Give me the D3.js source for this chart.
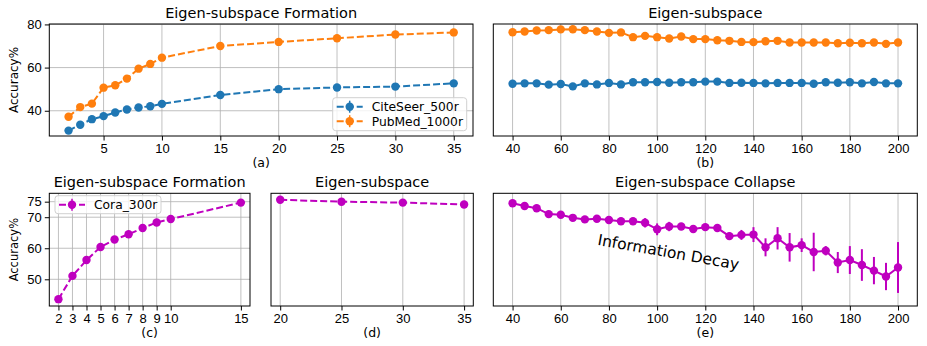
<!DOCTYPE html>
<html>
<head>
<meta charset="utf-8">
<script src="https://cdn.jsdelivr.net/npm/d3@7"></script>
<style>
	body { margin: 0; background: #fff; }
	svg { font-family: "DejaVu Sans", sans-serif; }
	.grid line { stroke: #b0b0b0; stroke-width: 1; stroke-opacity: 0.8; }
	.axis path, .axis line { stroke: #000; }
	.axis text { font-size: 13px; fill: #000; }
</style>
</head>
<body>
<svg width="927" height="346"></svg>
<script>
// data........................................................................

var ranksA = [2, 3, 4, 5, 6, 7, 8, 9, 10, 15, 20, 25, 30, 35],
	citeseerA = [30.8, 33.5, 36.1, 37.5, 39.2, 40.6, 41.5, 42.1, 43.2, 47.3, 50.0, 50.8, 51.2, 52.7],
	pubmedA = [37.2, 41.7, 43.3, 50.7, 51.8, 54.9, 59.5, 61.7, 64.6, 70.0, 71.9, 73.6, 75.3, 76.3];

var ranksB = [40, 45, 50, 55, 60, 65, 70, 75, 80, 85, 90, 95, 100, 105, 110, 115, 120,
		125, 130, 135, 140, 145, 150, 155, 160, 165, 170, 175, 180, 185, 190, 195, 200],
	citeseerB = [52.5, 52.7, 52.7, 52.1, 52.4, 51.3, 52.7, 52.2, 52.9, 52.2, 53.2, 53.2, 53.3,
		53.0, 53.2, 53.2, 53.5, 53.5, 52.9, 53.0, 52.9, 52.7, 52.9, 52.9, 52.9, 52.5, 53.2,
		53.0, 53.2, 52.7, 53.3, 52.7, 52.7],
	pubmedB = [76.4, 76.7, 77.2, 77.35, 77.7, 77.8, 77.35, 76.7, 76.1, 76.3, 74.1, 74.7, 74.1,
		73.5, 74.4, 73.2, 73.2, 72.7, 72.4, 71.9, 71.8, 72.2, 72.4, 71.6, 71.6, 71.6, 71.6,
		71.3, 71.5, 71.3, 71.6, 71.0, 71.6];

var ranksC = [2, 3, 4, 5, 6, 7, 8, 9, 10, 15],
	coraC = [43.6, 51.1, 56.2, 60.4, 62.8, 64.5, 66.5, 68.3, 69.4, 74.7];

var ranksD = [20, 25, 30, 35],
	coraD = [75.6, 75.0, 74.7, 74.1];

var ranksE = ranksB,
	coraE = [74.5, 73.6, 72.9, 71.0, 70.8, 69.8, 69.3, 69.5, 69.1, 68.7, 68.7, 68.2, 66.1,
		67.0, 67.0, 66.2, 66.8, 66.5, 63.9, 64.3, 64.4, 60.3, 63.2, 60.3, 61.0, 58.8, 59.2,
		55.4, 56.2, 54.6, 52.8, 50.9, 53.8],
	coraErrE = [0.6, 0.6, 0.6, 0.6, 0.6, 0.6, 0.6, 0.6, 0.7, 0.7, 0.7, 1.5, 1.9,
		1.5, 0.8, 0.6, 0.7, 0.8, 1.2, 1.6, 2.4, 2.9, 3.6, 4.6, 2.2, 6.2, 1.5,
		3.4, 4.5, 5.1, 4.4, 4.4, 8.2];

var ticksAx = [5, 10, 15, 20, 25, 30, 35], ticksAy = [40, 60, 80],
	ticksBx = [40, 60, 80, 100, 120, 140, 160, 180, 200],
	ticksCx = [2, 3, 4, 5, 6, 7, 8, 9, 10, 15], ticksCy = [50, 60, 70, 75],
	ticksDx = [20, 25, 30, 35];

var blue = "#1f77b4", orange = "#ff7f0e", magenta = "#bf00bf";

// panels......................................................................

var svg = d3.select("svg");

var yTop = d3.scaleLinear().domain([28.3, 80.2]).range([136, 24]),
	yBot = d3.scaleLinear().domain([41.4, 77.7]).range([306, 193.3]);

var pa = panel([49.3, 473], yTop, [0.35, 36.65], ticksAx, ticksAy, 12,
		"Eigen-subspace Formation", "(a)"),
	pb = panel([493.3, 917.3], yTop, [32, 208], ticksBx, ticksAy, 0,
		"Eigen-subspace", "(b)"),
	pc = panel([49.3, 250], yBot, [1.35, 15.65], ticksCx, ticksCy, 11.5,
		"Eigen-subspace Formation", "(c)"),
	pd = panel([271, 473.3], yBot, [19.25, 35.75], ticksDx, ticksCy, 0,
		"Eigen-subspace", "(d)"),
	pe = panel([493.3, 917.3], yBot, [32, 208], ticksBx, ticksCy, 0,
		"Eigen-subspace Collapse", "(e)");

series(pa, ranksA, citeseerA, null, blue, true);
series(pa, ranksA, pubmedA, null, orange, true);
series(pb, ranksB, citeseerB, null, blue, false);
series(pb, ranksB, pubmedB, null, orange, false);
series(pc, ranksC, coraC, null, magenta, true);
series(pd, ranksD, coraD, null, magenta, true);
series(pe, ranksE, coraE, coraErrE, magenta, false);

legend(pa, 332.7, 97.7, 134, 33, [["CiteSeer_500r", blue], ["PubMed_1000r", orange]]);
legend(pc, 55, 195.7, 106, 18, [["Cora_300r", magenta]]);

// free text in (e)
pe.g.append("text")
	.attr("transform", "translate(" + pe.x(75) + "," + pe.y(61.1) + ") rotate(10)")
	.style("font-size", "15.5px")
	.text("Information Decay");

// helpers.....................................................................

function panel(xr, y, xdom, xticks, yticks, ylabelSize, title, label){
	var x = d3.scaleLinear().domain(xdom).range(xr),
		g = svg.append("g");

	// grid
	g.append("g").attr("class", "grid")
		.selectAll("line").data(xticks)
		.enter().append("line")
			.attr("x1", function(d) { return x(d); })
			.attr("x2", function(d) { return x(d); })
			.attr("y1", y.range()[0])
			.attr("y2", y.range()[1]);
	if(ylabelSize)
		g.append("g").attr("class", "grid")
			.selectAll("line").data(yticks)
			.enter().append("line")
				.attr("x1", xr[0])
				.attr("x2", xr[1])
				.attr("y1", function(d) { return y(d); })
				.attr("y2", function(d) { return y(d); });

	// axes
	g.append("g").attr("class", "axis")
		.attr("transform", "translate(0," + y.range()[0] + ")")
		.call(d3.axisBottom(x).tickValues(xticks).tickSize(4.5).tickPadding(3).tickSizeOuter(0))
		.select(".domain").remove();
	if(ylabelSize){
		g.append("g").attr("class", "axis")
			.attr("transform", "translate(" + xr[0] + ",0)")
			.call(d3.axisLeft(y).tickValues(yticks).tickSize(4.5).tickPadding(3).tickSizeOuter(0))
			.select(".domain").remove();
		g.append("text")
			.attr("transform", "translate(14," + (y.range()[0] + y.range()[1]) / 2 + ") rotate(-90)")
			.attr("text-anchor", "middle")
			.attr("dy", "0.35em")
			.style("font-size", ylabelSize + "px")
			.text("Accuracy%");
	}

	// frame
	g.append("rect")
		.attr("x", xr[0]).attr("y", y.range()[1])
		.attr("width", xr[1] - xr[0])
		.attr("height", y.range()[0] - y.range()[1])
		.style("fill", "none").style("stroke", "#000").style("stroke-width", 1);

	g.append("text")
		.attr("x", (xr[0] + xr[1]) / 2).attr("y", y.range()[1] - 6)
		.attr("text-anchor", "middle")
		.style("font-size", "14.5px")
		.text(title);
	g.append("text")
		.attr("x", (xr[0] + xr[1]) / 2).attr("y", y.range()[0] + 31)
		.attr("text-anchor", "middle")
		.style("font-size", "12.5px")
		.text(label);

	return {g: g, x: x, y: y};
}

function series(p, xs, ys, errs, color, dashed){
	var pts = xs.map(function(d, i) { return [d, ys[i], errs ? errs[i] : 0]; }),
		line = d3.line()
			.x(function(d) { return p.x(d[0]); })
			.y(function(d) { return p.y(d[1]); });

	p.g.append("path").datum(pts)
		.attr("d", line)
		.style("fill", "none")
		.style("stroke", color)
		.style("stroke-width", 2)
		.style("stroke-dasharray", dashed ? "7,3" : null);

	if(errs)
		p.g.append("g").selectAll("line").data(pts)
			.enter().append("line")
				.attr("x1", function(d) { return p.x(d[0]); })
				.attr("x2", function(d) { return p.x(d[0]); })
				.attr("y1", function(d) { return p.y(d[1] - d[2]); })
				.attr("y2", function(d) { return p.y(d[1] + d[2]); })
				.style("stroke", color)
				.style("stroke-width", 2);

	p.g.append("g").selectAll("circle").data(pts)
		.enter().append("circle")
			.attr("cx", function(d) { return p.x(d[0]); })
			.attr("cy", function(d) { return p.y(d[1]); })
			.attr("r", 4.2)
			.style("fill", color);
}

function legend(p, x0, y0, w, h, entries){
	var lg = p.g.append("g");

	lg.append("rect")
		.attr("x", x0).attr("y", y0)
		.attr("width", w).attr("height", h)
		.attr("rx", 3)
		.style("fill", "#fff").style("fill-opacity", 0.8)
		.style("stroke", "#d0d0d0");

	entries.forEach(function(e, i){
		var cy = y0 + 9 + i * 14.5;
		lg.append("line")
			.attr("x1", x0 + 4).attr("x2", x0 + 30)
			.attr("y1", cy).attr("y2", cy)
			.style("stroke", e[1]).style("stroke-width", 2)
			.style("stroke-dasharray", "7,3");
		lg.append("line")
			.attr("x1", x0 + 17).attr("x2", x0 + 17)
			.attr("y1", cy - 6).attr("y2", cy + 6)
			.style("stroke", e[1]).style("stroke-width", 1.5);
		lg.append("circle")
			.attr("cx", x0 + 17).attr("cy", cy)
			.attr("r", 4.2)
			.style("fill", e[1]);
		lg.append("text")
			.attr("x", x0 + 39).attr("y", cy)
			.attr("dy", "0.35em")
			.style("font-size", "12.3px")
			.text(e[0]);
	});
}
</script>
</body>
</html>
